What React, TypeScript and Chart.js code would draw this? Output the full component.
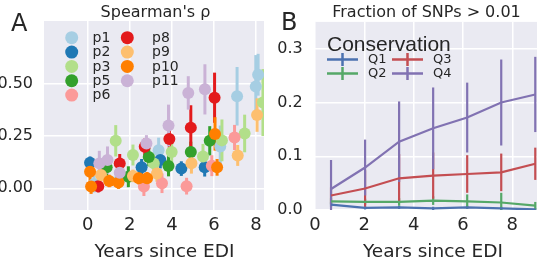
import React, { useEffect, useRef } from "react";
import { Chart, registerables } from "chart.js";

Chart.register(...registerables);

const SANS = "'DejaVu Sans', sans-serif";
const ARIAL = "'Liberation Sans', Arial, sans-serif";
const INK = "#262626";
const PANEL_BG = "#EAEAF2";

// ---------------- Panel A : Spearman's rho per patient ----------------
const patientNames = ["p1", "p2", "p3", "p5", "p6", "p8", "p9", "p10", "p11"];
const patientColors = ["#a6cee3", "#1f78b4", "#b2df8a", "#33a02c", "#fb9a99", "#e31a1c", "#fdbf6f", "#ff7f00", "#cab2d6"];

const p1Years = [0.3, 1.5, 3.37, 6.3, 7.1, 7.99, 8.1];
const p1Rho = [0.02, 0.04, 0.182, 0.2, 0.44, 0.487, 0.543];
const p1Err = [0.04, 0.04, 0.06, 0.1, 0.14, 0.15, 0.1];

const p2Years = [0.11, 2.56, 3.45, 4.45, 5.56];
const p2Rho = [0.122, 0.1, 0.135, 0.094, 0.101];
const p2Err = [0.03, 0.04, 0.04, 0.035, 0.045];

const p3Years = [1.33, 2.15, 3.14, 3.99, 5.48, 6.38, 7.46, 8.33];
const p3Rho = [0.227, 0.159, 0.119, 0.173, 0.152, 0.229, 0.262, 0.41];
const p3Err = [0.075, 0.05, 0.05, 0.05, 0.06, 0.1, 0.09, 0.16];

const p5Years = [0.9, 1.93, 2.9, 3.84, 4.9, 5.8];
const p5Rho = [0.1, 0.055, 0.15, 0.107, 0.173, 0.227];
const p5Err = [0.04, 0.05, 0.045, 0.05, 0.05, 0.07];

const p6Years = [2.67, 3.53, 4.7, 5.9, 6.98];
const p6Rho = [0.008, 0.024, 0.01, 0.108, 0.243];
const p6Err = [0.045, 0.047, 0.04, 0.05, 0.06];

const p8Years = [0.5, 1.52, 2.71, 3.88, 4.9, 6.03];
const p8Rho = [0.01, 0.119, 0.198, 0.236, 0.29, 0.433];
const p8Err = [0.03, 0.045, 0.04, 0.065, 0.107, 0.12];

const p9Years = [0.63, 2.15, 3.29, 4.93, 7.13, 8.05];
const p9Rho = [0.063, 0.059, 0.071, 0.12, 0.157, 0.35];
const p9Err = [0.03, 0.03, 0.04, 0.05, 0.05, 0.08];

const p10Years = [0.11, 0.16, 1.02, 1.46, 2.43, 2.82, 6.05, 6.15];
const p10Rho = [0.079, 0.008, 0.035, 0.027, 0.048, 0.048, 0.26, 0.1];
const p10Err = [0.045, 0.035, 0.03, 0.03, 0.03, 0.03, 0.08, 0.04];

const p11Years = [0.55, 0.94, 1.52, 2.79, 3.84, 4.78, 5.57];
const p11Rho = [0.119, 0.135, 0.074, 0.214, 0.3, 0.456, 0.473];
const p11Err = [0.06, 0.065, 0.03, 0.04, 0.1, 0.08, 0.12];

const patientYears = [p1Years, p2Years, p3Years, p5Years, p6Years, p8Years, p9Years, p10Years, p11Years];
const patientRho = [p1Rho, p2Rho, p3Rho, p5Rho, p6Rho, p8Rho, p9Rho, p10Rho, p11Rho];
const patientErr = [p1Err, p2Err, p3Err, p5Err, p6Err, p8Err, p9Err, p10Err, p11Err];

const rhoTicks = [0, 0.25, 0.5];
const yearTicksA = [0, 2, 4, 6, 8];

// ---------------- Panel B : fraction of SNPs > 0.01 ----------------
const conservationNames = ["Q1", "Q2", "Q3", "Q4"];
const conservationColors = ["#4C72B0", "#55A868", "#C44E52", "#8172B2"];
const binYears = [0.65, 2.03, 3.41, 4.79, 6.17, 7.55, 8.93];

const q1Fraction = [0.01, 0.004, 0.005, 0.003, 0.005, 0.003, 0.001];
const q1Err = [0.004, 0.003, 0.003, 0.003, 0.003, 0.003, 0.002];
const q2Fraction = [0.016, 0.015, 0.015, 0.0175, 0.016, 0.014, 0.008];
const q2Err = [0.006, 0.006, 0.007, 0.008, 0.013, 0.018, 0.007];
const q3Fraction = [0.027, 0.04, 0.059, 0.064, 0.067, 0.07, 0.086];
const q3Err = [0.015, 0.034, 0.045, 0.043, 0.035, 0.035, 0.03];
const q4Fraction = [0.039, 0.079, 0.127, 0.152, 0.172, 0.2, 0.215];
const q4Err = [0.054, 0.052, 0.075, 0.076, 0.065, 0.08, 0.07];

const conservationFraction = [q1Fraction, q2Fraction, q3Fraction, q4Fraction];
const conservationErr = [q1Err, q2Err, q3Err, q4Err];

const fractionTicks = [0, 0.1, 0.2, 0.3];
const yearTicksB = [0, 2, 4, 6, 8];

// ---------------- plugins ----------------
const panelBackground = {
  id: "panelBackground",
  beforeDraw(chart: any) {
    const { ctx, chartArea: a } = chart;
    ctx.save();
    ctx.fillStyle = PANEL_BG;
    ctx.fillRect(a.left, a.top, a.right - a.left, a.bottom - a.top);
    ctx.restore();
  },
};

const errorBars = {
  id: "errorBars",
  beforeDatasetsDraw(chart: any, _args: any, opts: any) {
    const { ctx, chartArea: a, scales } = chart;
    ctx.save();
    ctx.beginPath();
    ctx.rect(a.left, a.top, a.right - a.left, a.bottom - a.top);
    ctx.clip();
    ctx.lineCap = "butt";
    chart.data.datasets.forEach((ds: any) => {
      ctx.strokeStyle = ds.borderColor;
      ctx.lineWidth = opts.width;
      ds.data.forEach((pt: any, j: number) => {
        const e = ds.errors[j];
        const x = scales.x.getPixelForValue(pt.x);
        ctx.beginPath();
        ctx.moveTo(x, scales.y.getPixelForValue(pt.y - e));
        ctx.lineTo(x, scales.y.getPixelForValue(pt.y + e));
        ctx.stroke();
      });
    });
    ctx.restore();
  },
};

const panelText = {
  id: "panelText",
  afterDraw(chart: any, _args: any, o: any) {
    const { ctx, chartArea: a } = chart;
    const cx = (a.left + a.right) / 2;
    ctx.save();
    ctx.fillStyle = INK;
    ctx.textBaseline = "alphabetic";
    ctx.textAlign = "left";
    ctx.font = `24px ${SANS}`;
    ctx.fillText(o.letter, o.letterX, o.letterY);
    ctx.textAlign = "center";
    ctx.font = `16px ${SANS}`;
    ctx.fillText(o.heading, cx + o.headingShift, 16.7);
    ctx.font = `18.5px ${SANS}`;
    ctx.fillText(o.axisTitle, cx + o.axisShift, 256.5);
    ctx.restore();
  },
};

const legendA = {
  id: "legendA",
  afterDatasetsDraw(chart: any) {
    const ctx = chart.ctx;
    ctx.save();
    ctx.font = `14px ${SANS}`;
    ctx.textBaseline = "middle";
    ctx.textAlign = "left";
    chart.data.datasets.forEach((ds: any, i: number) => {
      const col = i < 5 ? 0 : 1;
      const row = i < 5 ? i : i - 5;
      const mx = col === 0 ? 71.7 : 127.3;
      const tx = col === 0 ? 92.5 : 152;
      const y = 37.7 + row * 14.35;
      ctx.fillStyle = ds.backgroundColor;
      ctx.beginPath();
      ctx.arc(mx, y, 6.5, 0, Math.PI * 2);
      ctx.fill();
      ctx.fillStyle = INK;
      ctx.fillText(ds.label, tx, y + 0.5);
    });
    ctx.restore();
  },
};

const legendB = {
  id: "legendB",
  afterDatasetsDraw(chart: any) {
    const ctx = chart.ctx;
    ctx.save();
    ctx.fillStyle = INK;
    ctx.textAlign = "left";
    ctx.textBaseline = "alphabetic";
    ctx.font = `21px ${ARIAL}`;
    ctx.fillText("Conservation", 57, 51);
    ctx.font = `13px ${SANS}`;
    ctx.textBaseline = "middle";
    chart.data.datasets.forEach((ds: any, i: number) => {
      const col = i < 2 ? 0 : 1;
      const row = i % 2;
      const x0 = col === 0 ? 57 : 122;
      const y = 59.5 + row * 14;
      ctx.strokeStyle = ds.borderColor;
      ctx.lineWidth = 2.5;
      ctx.beginPath();
      ctx.moveTo(x0, y);
      ctx.lineTo(x0 + 31, y);
      ctx.moveTo(x0 + 15.5, y - 6.5);
      ctx.lineTo(x0 + 15.5, y + 6.5);
      ctx.stroke();
      ctx.fillStyle = INK;
      ctx.fillText(ds.label, x0 + 41, y + 0.5);
    });
    ctx.restore();
  },
};

function fixedTicks(values: number[]) {
  return (scale: any) => {
    scale.ticks = values.map((v) => ({ value: v }));
  };
}

function makeChartA(canvas: HTMLCanvasElement) {
  const n = patientNames.length;
  return new Chart(canvas, {
    type: "scatter",
    data: {
      datasets: patientNames.map((name, i) => ({
        label: name,
        data: patientYears[i].map((x, j) => ({ x, y: patientRho[i][j] })),
        errors: patientErr[i],
        backgroundColor: patientColors[i],
        borderColor: patientColors[i],
        borderWidth: 0,
        pointRadius: 6,
        pointHoverRadius: 6,
        order: n - i,
      })) as any,
    },
    options: {
      responsive: false,
      animation: false,
      devicePixelRatio: 1,
      events: [],
      layout: { padding: { top: 21, right: 4, left: 0, bottom: 0 } },
      plugins: {
        legend: { display: false },
        tooltip: { enabled: false },
        errorBars: { width: 3 },
        panelText: {
          letter: "A",
          letterX: 11,
          letterY: 30.5,
          heading: "Spearman's ρ",
          headingShift: 1.5,
          axisTitle: "Years since EDI",
          axisShift: 10.5,
        },
      } as any,
      scales: {
        x: {
          type: "linear",
          min: -2.08,
          max: 8.38,
          afterBuildTicks: fixedTicks(yearTicksA),
          afterFit: (s: any) => {
            s.height = 49;
          },
          grid: { color: "#ffffff", lineWidth: 1.5, drawTicks: false },
          border: { display: false },
          ticks: { color: INK, font: { family: SANS, size: 18 }, padding: 5, maxRotation: 0 },
        },
        y: {
          type: "linear",
          min: -0.104,
          max: 0.8,
          afterBuildTicks: fixedTicks(rhoTicks),
          afterFit: (s: any) => {
            s.width = 44;
          },
          grid: { color: "#ffffff", lineWidth: 1.5, drawTicks: false },
          border: { display: false },
          ticks: {
            color: INK,
            font: { family: SANS, size: 16 },
            padding: 11,
            callback: (v: any) => Number(v).toFixed(2),
          },
        },
      },
    },
    plugins: [panelBackground, errorBars, legendA, panelText],
  });
}

function makeChartB(canvas: HTMLCanvasElement) {
  const n = conservationNames.length;
  return new Chart(canvas, {
    type: "line",
    data: {
      datasets: conservationNames.map((name, i) => ({
        label: name,
        data: binYears.map((x, j) => ({ x, y: conservationFraction[i][j] })),
        errors: conservationErr[i],
        borderColor: conservationColors[i],
        backgroundColor: conservationColors[i],
        borderWidth: 2.2,
        pointRadius: 0,
        tension: 0,
        fill: false,
        order: n - i,
      })) as any,
    },
    options: {
      responsive: false,
      animation: false,
      devicePixelRatio: 1,
      events: [],
      layout: { padding: { top: 21, right: 1, left: 0, bottom: 0 } },
      plugins: {
        legend: { display: false },
        tooltip: { enabled: false },
        errorBars: { width: 2.2 },
        panelText: {
          letter: "B",
          letterX: 11,
          letterY: 29.5,
          heading: "Fraction of SNPs > 0.01",
          headingShift: 0.5,
          axisTitle: "Years since EDI",
          axisShift: 7,
        },
      } as any,
      scales: {
        x: {
          type: "linear",
          min: 0,
          max: 9.0,
          afterBuildTicks: fixedTicks(yearTicksB),
          afterFit: (s: any) => {
            s.height = 49;
          },
          grid: { color: "#ffffff", lineWidth: 1.5, drawTicks: false },
          border: { display: false },
          ticks: { color: INK, font: { family: SANS, size: 18 }, padding: 5, maxRotation: 0 },
        },
        y: {
          type: "linear",
          min: 0,
          max: 0.35,
          afterBuildTicks: fixedTicks(fractionTicks),
          afterFit: (s: any) => {
            s.width = 45;
          },
          grid: { color: "#ffffff", lineWidth: 1.5, drawTicks: false },
          border: { display: false },
          ticks: {
            color: INK,
            font: { family: SANS, size: 16 },
            padding: 12.3,
            callback: (v: any) => Number(v).toFixed(1),
          },
        },
      },
    },
    plugins: [panelBackground, errorBars, legendB, panelText],
  });
}

export default function App() {
  const refA = useRef<HTMLCanvasElement | null>(null);
  const refB = useRef<HTMLCanvasElement | null>(null);

  useEffect(() => {
    const a = makeChartA(refA.current!);
    const b = makeChartB(refB.current!);
    return () => {
      a.destroy();
      b.destroy();
    };
  }, []);

  return (
    <div style={{ position: "absolute", left: 0, top: 0, width: 538, height: 259, background: "#ffffff" }}>
      <canvas ref={refA} width={270} height={259} style={{ position: "absolute", left: 0, top: 0, width: 270, height: 259 }} />
      <canvas ref={refB} width={268} height={259} style={{ position: "absolute", left: 270, top: 0, width: 268, height: 259 }} />
    </div>
  );
}
